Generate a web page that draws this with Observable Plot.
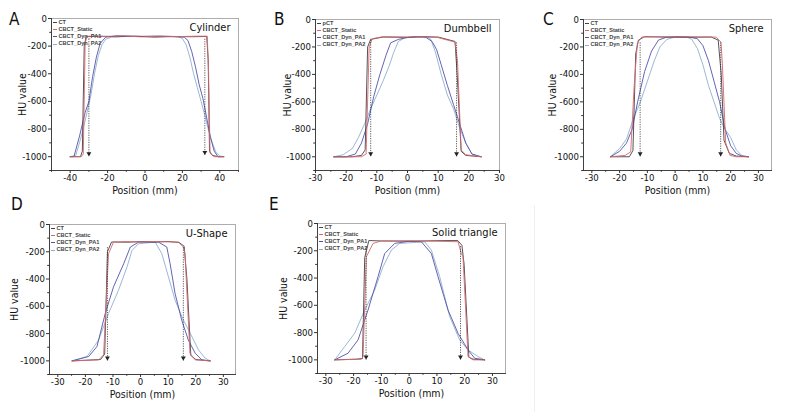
<!DOCTYPE html>
<html>
<head>
<meta charset="utf-8">
<script src="https://cdn.jsdelivr.net/npm/d3@7"></script>
<script src="https://cdn.jsdelivr.net/npm/@observablehq/plot@0.6"></script>
<style>
  html, body { margin: 0; padding: 0; background: #fff; }
  #root { position: relative; width: 800px; height: 412px; overflow: hidden; font-family: "DejaVu Sans Condensed", "DejaVu Sans", sans-serif; font-stretch: condensed; }
  .panel { position: absolute; }
  .letter { position: absolute; font-size: 17px; color: #111; line-height: 1; }
  .legend { position: absolute; font-family: "Liberation Sans", Arial, sans-serif; font-size: 5.6px; color: #444; line-height: 7.3px; font-weight: bold; }
  .legend .row { display: flex; align-items: center; height: 7.3px; white-space: nowrap; }
  .legend .sw { display: inline-block; width: 4px; height: 0; border-top: 1px solid; margin-right: 1.5px; }
  .sep { position: absolute; left: 534px; top: 205px; width: 1px; height: 207px; background: #f0f0f0; }
</style>
</head>
<body>
<div id="root"><div class="sep"></div></div>
<script>
// ---------- data ----------
const seriesNames = ["CT", "CBCT_Static", "CBCT_Dyn_PA1", "CBCT_Dyn_PA2"];
const seriesColors = ["#404048", "#d8686c", "#5252ac", "#8fb0cc"];
const yMajor = [0, -200, -400, -600, -800, -1000];
const yMinor = [-100, -300, -500, -700, -900, -1100];

// A: Cylinder
const cylCT = [[-40,-1000],[-34.5,-1000],[-33.5,-960],[-32.5,-200],[-31.5,-132],[-25,-128],[-15,-132],[-5,-128],[5,-135],[15,-130],[25,-132],[33,-130],[33.8,-300],[34.5,-960],[36,-990],[39,-1000],[42,-1000]];
const cylStatic = [[-40,-1000],[-34,-1000],[-33,-980],[-32,-180],[-31,-128],[-22,-130],[-12,-126],[-2,-133],[8,-128],[18,-131],[28,-128],[33.3,-128],[34,-400],[34.8,-975],[37,-1000],[42,-1000]];
const cylPA1 = [[-40,-1000],[-38,-1000],[-35,-850],[-32,-680],[-30,-600],[-28,-420],[-26,-280],[-24,-180],[-21,-135],[-15,-125],[-5,-130],[5,-128],[15,-132],[21,-135],[23,-160],[25,-240],[27,-350],[29,-480],[31,-580],[33,-720],[35,-860],[37,-960],[39,-1000],[42,-1000]];
const cylPA2 = [[-40,-1000],[-37,-990],[-34,-850],[-31,-680],[-29,-560],[-27,-400],[-25,-270],[-23,-190],[-21,-150],[-18,-135],[-10,-128],[0,-130],[10,-127],[18,-132],[20,-145],[22,-190],[24,-280],[26,-400],[28,-500],[30,-600],[32,-700],[34,-810],[36,-900],[38,-970],[40,-995],[42.5,-1000]];
const cylArrows = [{x: -30, from: -150, to: -1000}, {x: 32, from: -150, to: -990}];

// B: Dumbbell
const dumCT = [[-24,-1000],[-18,-1000],[-15,-990],[-13.8,-950],[-13,-200],[-12,-145],[-8,-128],[0,-130],[5,-125],[10,-128],[15.5,-160],[16.2,-400],[17.5,-960],[19,-990],[24,-1000]];
const dumStatic = [[-24,-1000],[-15,-1000],[-13.5,-980],[-12.5,-200],[-11.5,-140],[-8,-125],[0,-128],[5,-125],[10,-132],[15.5,-165],[16.3,-300],[17.5,-950],[19,-985],[22,-995],[24,-1000]];
const dumPA1 = [[-24,-1000],[-20,-1000],[-17,-980],[-15,-900],[-13,-760],[-11,-560],[-9,-400],[-7,-260],[-5.5,-170],[-3,-145],[0,-130],[3,-125],[6,-130],[8,-160],[9.5,-220],[11,-330],[13,-480],[15,-620],[17,-760],[19,-900],[21,-980],[24,-1000]];
const dumPA2 = [[-24,-1000],[-21,-985],[-18,-940],[-16,-860],[-14,-760],[-12,-650],[-10,-550],[-8,-450],[-6,-340],[-4.5,-240],[-3,-160],[-1,-135],[2,-128],[6,-125],[7.5,-140],[9,-230],[11,-400],[13,-550],[15,-650],[17,-790],[19,-900],[21,-980],[24,-1000]];
const dumArrows = [{x: -12, from: -150, to: -1000}, {x: 16, from: -170, to: -1000}];

// C: Sphere
const sphCT = [[-23.3,-1000],[-16.5,-1000],[-15.2,-955],[-14.2,-250],[-13.2,-150],[-11,-125],[0,-130],[13,-128],[15.5,-150],[16.6,-400],[17.6,-880],[19.5,-975],[22,-995],[26.4,-1000]];
const sphStatic = [[-23.3,-1000],[-18,-990],[-16,-965],[-14.8,-500],[-13.6,-170],[-12,-128],[-5,-125],[0,-128],[5,-126],[14.8,-128],[16.5,-165],[17,-320],[18.2,-900],[19.8,-990],[22,-1000],[26.4,-1000]];
const sphPA1 = [[-23.3,-1000],[-20,-960],[-17.5,-900],[-15.5,-800],[-13.5,-600],[-11,-380],[-8.5,-230],[-6,-150],[-3,-128],[0,-125],[5,-128],[8,-140],[10,-190],[12,-300],[14,-450],[16,-600],[18,-800],[20,-920],[22,-975],[24,-995],[26.4,-1000]];
const sphPA2 = [[-23.3,-1000],[-20,-940],[-17.5,-870],[-15,-720],[-12.5,-600],[-10,-450],[-7.5,-300],[-5.5,-200],[-3,-145],[0,-128],[4,-125],[6,-145],[8,-210],[10,-330],[12,-480],[14,-600],[16,-720],[18,-800],[20,-860],[22,-950],[24,-990],[26.4,-1000]];
const sphArrows = [{x: -12.6, from: -170, to: -1000}, {x: 16.4, from: -170, to: -1000}];

// D: U-Shape
const uCT = [[-24.8,-1000],[-14.5,-990],[-13,-950],[-12,-200],[-10.5,-128],[-5,-130],[0,-126],[5,-128],[10,-125],[14,-132],[15.8,-160],[16.8,-400],[18.2,-960],[20,-990],[25.2,-1000]];
const uStatic = [[-24.8,-1000],[-15.2,-993],[-13.4,-956],[-11.6,-214],[-9.8,-129],[-5,-125],[0,-128],[5,-125],[10,-127],[13.7,-129],[15.5,-165],[16.1,-214],[17.9,-944],[19.8,-993],[25.2,-1000]];
const uPA1 = [[-24.8,-1000],[-18.8,-968],[-15.8,-895],[-12.8,-652],[-9.8,-457],[-6.1,-287],[-3.7,-165],[-0.7,-129],[6.5,-129],[9.5,-165],[10.7,-287],[12.5,-506],[14.9,-700],[17.3,-847],[19.8,-944],[22.2,-993],[25.2,-1000]];
const uPA2 = [[-24.8,-1000],[-19.4,-968],[-15.2,-847],[-11.6,-652],[-8,-482],[-4.9,-311],[-3.1,-190],[-0.7,-141],[5.3,-129],[7.7,-214],[10.1,-384],[12.5,-555],[15.5,-700],[18,-798],[21,-920],[23.4,-980],[25.2,-1000]];
const uArrows = [{x: -12, from: -170, to: -1000}, {x: 15.5, from: -170, to: -1000}];

// E: Solid triangle
const triCT = [[-26.8,-1000],[-19,-995],[-16.8,-990],[-16,-250],[-14.5,-125],[-10,-128],[0,-130],[10,-126],[17.5,-125],[19,-160],[19.8,-300],[21.5,-980],[23,-995],[27.2,-1000]];
const triStatic = [[-26.8,-1000],[-17.2,-995],[-16.6,-976],[-15.4,-244],[-13,-146],[-10,-128],[0,-127],[10,-130],[17.6,-134],[18.8,-220],[19.4,-244],[21.2,-976],[23,-1000],[27.2,-1000]];
const triPA1 = [[-26.8,-1000],[-22,-951],[-18.4,-854],[-14.8,-634],[-11.2,-390],[-8.8,-220],[-5.2,-146],[0,-130],[4.4,-134],[8,-220],[10.4,-390],[14,-634],[17.6,-805],[21.2,-927],[23.6,-988],[27.2,-1000]];
const triPA2 = [[-26.8,-1000],[-23.2,-902],[-19.6,-805],[-16,-634],[-12.4,-488],[-9.4,-317],[-6.4,-195],[-3.4,-146],[5.6,-134],[8,-195],[11,-390],[14.6,-683],[18.2,-854],[21.2,-927],[24.8,-976],[27.2,-1000]];
const triArrows = [{x: -15.5, from: -170, to: -1000}, {x: 18.5, from: -170, to: -1000}];

const panels = [
  {letter: "A", title: "Cylinder", firstName: "CT", fl: 51, ft: 18, fw: 187, fh: 152, xDomain: [-50, 50],
   xMajor: [-40, -20, 0, 20, 40], xMinor: [-50, -30, -10, 10, 30, 50], series: [cylCT, cylStatic, cylPA1, cylPA2], arrows: cylArrows,
   letterPos: [9, 11], yLab: 29},
  {letter: "B", title: "Dumbbell", firstName: "pCT", fl: 315, ft: 19, fw: 184, fh: 151, xDomain: [-30, 30],
   xMajor: [-30, -20, -10, 0, 10, 20, 30], xMinor: [-25, -15, -5, 5, 15, 25], series: [dumCT, dumStatic, dumPA1, dumPA2], arrows: dumArrows,
   letterPos: [274, 11], yLab: 28},
  {letter: "C", title: "Sphere", firstName: "CT", fl: 583, ft: 19, fw: 188, fh: 151, xDomain: [-33, 34.7],
   xMajor: [-30, -20, -10, 0, 10, 20, 30], xMinor: [-25, -15, -5, 5, 15, 25], series: [sphCT, sphStatic, sphPA1, sphPA2], arrows: sphArrows,
   letterPos: [543, 11], yLab: 31},
  {letter: "D", title: "U-Shape", firstName: "CT", fl: 49, ft: 224, fw: 186, fh: 150, xDomain: [-33, 34.4],
   xMajor: [-30, -20, -10, 0, 10, 20, 30], xMinor: [-25, -15, -5, 5, 15, 25], series: [uCT, uStatic, uPA1, uPA2], arrows: uArrows,
   letterPos: [11, 196], yLab: 35},
  {letter: "E", title: "Solid triangle", firstName: "CT", fl: 317, ft: 223, fw: 188, fh: 150, xDomain: [-33, 34.7],
   xMajor: [-30, -20, -10, 0, 10, 20, 30], xMinor: [-25, -15, -5, 5, 15, 25], series: [triCT, triStatic, triPA1, triPA2], arrows: triArrows,
   letterPos: [269, 196], yLab: 34}
];

// ---------- drawing ----------
const root = document.getElementById("root");
const ML = 45, MR = 8, MT = 8, MB = 32;
const fmt = d => String(d);
const FONT = '"DejaVu Sans Condensed", "DejaVu Sans", sans-serif';

for (const p of panels) {
  const rows = [];
  // draw order: PA2, PA1, CT, Static (red on top)
  for (const i of [3, 2, 0, 1]) {
    for (const [x, y] of p.series[i]) rows.push({x, y, s: seriesNames[i]});
  }
  const chart = Plot.plot({
    width: p.fw + ML + MR,
    height: p.fh + MT + MB,
    marginLeft: ML, marginRight: MR, marginTop: MT, marginBottom: MB,
    style: {fontFamily: FONT, fontSize: "9.5px", color: "#222", background: "transparent", fontStretch: "condensed"},
    x: {domain: p.xDomain},
    y: {domain: [-1100, 0]},
    color: {domain: seriesNames, range: seriesColors},
    marks: [
      Plot.frame({stroke: "#9a9a9a", strokeWidth: 0.8}),
      Plot.frame({anchor: "left", stroke: "#333", strokeWidth: 0.9}),
      Plot.frame({anchor: "bottom", stroke: "#333", strokeWidth: 0.9}),
      Plot.axisX({ticks: p.xMajor, tickSize: 3, tickPadding: 0.5, tickFormat: fmt, label: null, stroke: "#333", fill: "#111"}),
      Plot.axisX({ticks: p.xMinor, tickSize: 1.8, tickFormat: () => "", label: null, stroke: "#333"}),
      Plot.axisY({ticks: yMajor, tickSize: 3, tickPadding: 1.5, tickFormat: fmt, label: null, stroke: "#333", fill: "#111"}),
      Plot.axisY({ticks: yMinor, tickSize: 1.8, tickFormat: () => "", label: null, stroke: "#333"}),
      Plot.line(rows, {x: "x", y: "y", z: "s", stroke: "s", strokeWidth: 0.9}),
      Plot.ruleX(p.arrows, {x: "x", y1: "from", y2: "to", stroke: "#333", strokeWidth: 0.8, strokeDasharray: "1.2,1.2"}),
      Plot.dot(p.arrows, {x: "x", y: "to", symbol: "triangle", rotate: 180, r: 1.8, fill: "#222", stroke: null, dy: -3}),
      Plot.text([p.title], {frameAnchor: "top-right", dx: -8, dy: 9, lineAnchor: "middle", fontSize: 11, fill: "#111"}),
      Plot.text(["HU value"], {frameAnchor: "left", rotate: -90, dx: -p.yLab, textAnchor: "middle", lineAnchor: "middle", fontSize: 10.5, fill: "#111"}),
      Plot.text(["Position (mm)"], {frameAnchor: "bottom", dy: 20, textAnchor: "middle", lineAnchor: "middle", fontSize: 10.5, fill: "#111"})
    ]
  });
  const wrap = document.createElement("div");
  wrap.className = "panel";
  wrap.style.left = (p.fl - ML) + "px";
  wrap.style.top = (p.ft - MT) + "px";
  wrap.appendChild(chart);
  root.appendChild(wrap);

  // legend (inside top-left of frame)
  const lg = document.createElement("div");
  lg.className = "legend";
  lg.style.left = (p.fl + 2) + "px";
  lg.style.top = (p.ft + 0.5) + "px";
  seriesNames.forEach((name, i) => {
    const r = document.createElement("div");
    r.className = "row";
    const sw = document.createElement("span");
    sw.className = "sw";
    sw.style.borderTopColor = seriesColors[i];
    const t = document.createElement("span");
    t.textContent = i === 0 ? p.firstName : name;
    r.appendChild(sw); r.appendChild(t);
    lg.appendChild(r);
  });
  root.appendChild(lg);

  const L = document.createElement("div");
  L.className = "letter";
  L.style.left = p.letterPos[0] + "px";
  L.style.top = p.letterPos[1] + "px";
  L.textContent = p.letter;
  root.appendChild(L);
}
</script>
</body>
</html>
